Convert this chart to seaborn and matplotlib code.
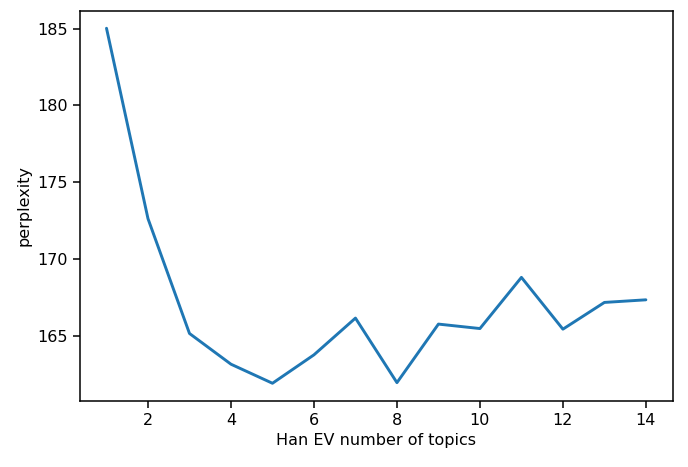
import matplotlib
matplotlib.use("Agg")
import matplotlib.pyplot as plt
import seaborn as sns
import pandas as pd

# perplexity per number of topics
num_topics = [1, 2, 3, 4, 5, 6, 7, 8, 9, 10, 11, 12, 13, 14]
perplexity = [185.02, 172.63, 165.16, 163.16, 161.92, 163.77, 166.16,
              161.96, 165.77, 165.48, 168.81, 165.44, 167.18, 167.35]

df = pd.DataFrame({"topics": num_topics, "perplexity": perplexity})

sns.set_style("ticks")
plt.rcParams['font.family'] = ['DejaVu Sans']
plt.rcParams['font.size'] = 11.5
plt.rcParams['text.color'] = 'black'
plt.rcParams['axes.labelcolor'] = 'black'
plt.rcParams['xtick.color'] = 'black'
plt.rcParams['ytick.color'] = 'black'

fig, ax = plt.subplots(figsize=(6.88, 4.67), dpi=100)
fig.subplots_adjust(left=0.1156, right=0.978, top=0.9775, bottom=0.1413)

sns.lineplot(data=df, x="topics", y="perplexity", color="#1f77b4",
             linewidth=2.1, ax=ax)

ax.set_xlabel("Han EV number of topics", fontsize=11.5)
ax.set_ylabel("perplexity", fontsize=11.5)
ax.set_xticks([2, 4, 6, 8, 10, 12, 14])
ax.set_yticks([165, 170, 175, 180, 185])
ax.tick_params(axis="both", labelsize=11.5, length=5, width=1.1, colors="black")
for s in ax.spines.values():
    s.set_linewidth(1.1)
    s.set_color("black")

fig.savefig("out.png", dpi=100)
